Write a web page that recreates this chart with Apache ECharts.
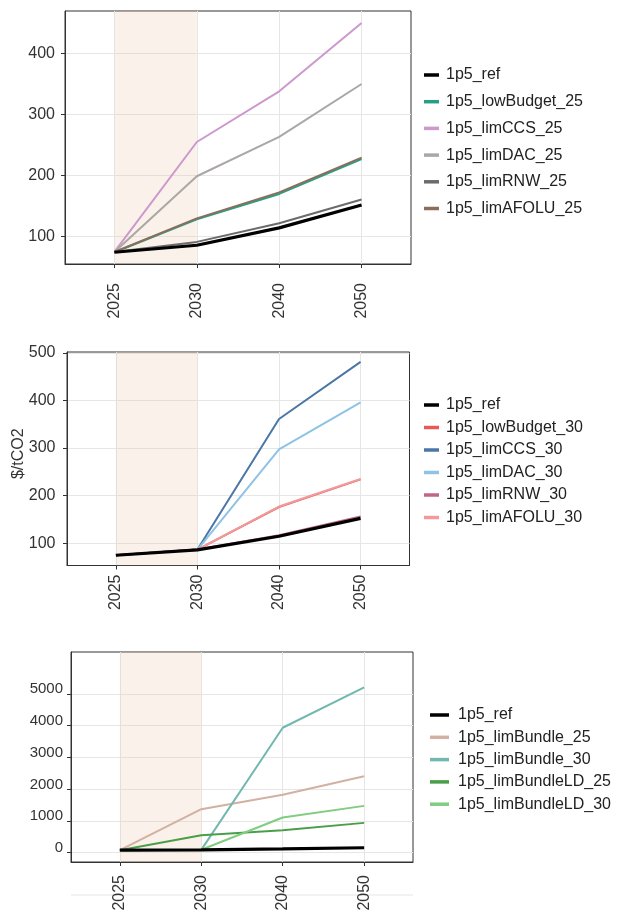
<!DOCTYPE html>
<html>
<head>
<meta charset="utf-8">
<script src="https://cdn.jsdelivr.net/npm/echarts@6/dist/echarts.min.js"></script>
<style>
  html, body { margin: 0; padding: 0; background: #fff; }
  #chart { width: 618px; height: 912px; }
</style>
</head>
<body>
<div id="chart"></div>
<script>
// ---- data ----
var years = ['2025', '2030', '2040', '2050'];
var ref = [74.5, 86, 114.5, 152];

// panel 1 (2025 scenarios)
var lowBudget_25 = [74.5, 128.5, 170, 227];
var limCCS_25 = [75, 255, 338, 450];
var limDAC_25 = [75, 199, 263.5, 350];
var limRNW_25 = [75, 91.5, 122, 161];
var limAFOLU_25 = [75, 130, 172.5, 229.5];

// panel 2 (2030 scenarios)
var lowBudget_30 = [74.5, 86.5, 176, 234];
var limCCS_30 = [74.5, 86.5, 361, 481];
var limDAC_30 = [74.5, 86.5, 297, 396];
var limRNW_30 = [74.5, 86.5, 116.5, 156];
var limAFOLU_30 = [74.5, 86.5, 177, 235];

// panel 3 (bundles)
var limBundle_25 = [80, 1365, 1820, 2405];
var limBundle_30 = [75, 86, 3930, 5200];
var limBundleLD_25 = [75, 545, 705, 935];
var limBundleLD_30 = [75, 90, 1105, 1470];

var yTicks1 = [100, 200, 300, 400];
var yTicks2 = [100, 200, 300, 400, 500];
var yTicks3 = [0, 1000, 2000, 3000, 4000, 5000];
var xTicks = [0, 1, 2, 3];

var panels = [
  { names: ['1p5_ref', '1p5_lowBudget_25', '1p5_limCCS_25', '1p5_limDAC_25', '1p5_limRNW_25', '1p5_limAFOLU_25'],
    values: [ref, lowBudget_25, limCCS_25, limDAC_25, limRNW_25, limAFOLU_25],
    colors: ['#000000', '#26a085', '#cc99cc', '#aaa7a5', '#6e6a6a', '#8c6c5a'] },
  { names: ['1p5_ref', '1p5_lowBudget_30', '1p5_limCCS_30', '1p5_limDAC_30', '1p5_limRNW_30', '1p5_limAFOLU_30'],
    values: [ref, lowBudget_30, limCCS_30, limDAC_30, limRNW_30, limAFOLU_30],
    colors: ['#000000', '#e8595c', '#4a77a6', '#8ec3e6', '#c0648a', '#f29a9a'] },
  { names: ['1p5_ref', '1p5_limBundle_25', '1p5_limBundle_30', '1p5_limBundleLD_25', '1p5_limBundleLD_30'],
    values: [ref, limBundle_25, limBundle_30, limBundleLD_25, limBundleLD_30],
    colors: ['#000000', '#d2b0a2', '#72b8b0', '#4a9e4a', '#80cc80'] }
];

var chart = echarts.init(document.getElementById('chart'), null, { renderer: 'canvas' });

var grids = [
  { left: 65, top: 11, width: 346, height: 253 },
  { left: 67, top: 352, width: 342.5, height: 213.5 },
  { left: 71, top: 652, width: 342, height: 210 }
];
grids.forEach(function (g) {
  g.show = true; g.borderColor = '#333'; g.borderWidth = 1; g.backgroundColor = '#fff';
  g.containLabel = false; g.outerBoundsMode = 'none';
});

var yRanges = [[55.3, 469.5], [53, 501.9], [-297, 6315]];
var yTickSets = [yTicks1, yTicks2, yTicks3];
var xLabelMargins = [19, 9, 13];
var yLabelMargins = [10, 11.5, 8];
var yFont = [16, 16, 15];

var xAxes = [], yAxes = [], series = [], legends = [];
for (var p = 0; p < 3; p++) {
  xAxes.push({
    type: 'value', gridIndex: p, min: -0.6, max: 3.6,
    axisLine: { show: true, onZero: false, lineStyle: { color: '#333', width: 1 } },
    axisTick: { show: true, length: 4, customValues: xTicks, lineStyle: { color: '#333' } },
    axisLabel: {
      customValues: xTicks, rotate: 90, margin: xLabelMargins[p],
      fontSize: 16, color: '#333', fontFamily: 'Liberation Sans, Arial, sans-serif',
      formatter: function (v) { return years[Math.round(v)]; }
    },
    splitLine: { show: true, lineStyle: { color: '#e6e6e6', width: 1 } }
  });
  var yLab = {
    customValues: yTickSets[p], margin: yLabelMargins[p],
    fontSize: yFont[p], color: '#333', fontFamily: 'Liberation Sans, Arial, sans-serif',
    formatter: function (v) { return String(v); }
  };
  if (p === 2) { yLab.verticalAlign = 'bottom'; yLab.lineHeight = 9; }
  yAxes.push({
    type: 'value', gridIndex: p, min: yRanges[p][0], max: yRanges[p][1],
    name: p === 1 ? '$/tCO2' : '', nameLocation: 'middle', nameGap: 40,
    nameMoveOverlap: false,
    nameTextStyle: { fontSize: 16, color: '#333', fontFamily: 'Liberation Sans, Arial, sans-serif', padding: [0, 0, 0, 10] },
    axisLine: { show: true, onZero: false, lineStyle: { color: '#333', width: 1 } },
    axisTick: { show: true, length: 4, customValues: yTickSets[p], lineStyle: { color: '#333' } },
    axisLabel: yLab,
    splitLine: { show: true, lineStyle: { color: '#e6e6e6', width: 1 } }
  });

  var pan = panels[p];
  for (var s = 1; s <= pan.names.length; s++) {
    var idx = s % pan.names.length; // ref (index 0) drawn last, on top
    var vals = pan.values[idx];
    var pts = vals.map(function (v, i) { return [i, v]; });
    var isRef = idx === 0;
    var ser = {
      type: 'line', name: pan.names[idx], xAxisIndex: p, yAxisIndex: p,
      data: pts, symbol: 'none', showSymbol: false, silent: true,
      color: pan.colors[idx],
      lineStyle: { color: pan.colors[idx], width: isRef ? 3.2 : 2 },
      z: isRef ? 5 : 3, animation: false
    };
    if (s === 1) {
      ser.markArea = {
        silent: true,
        itemStyle: { color: 'rgba(236, 205, 170, 0.25)' },
        data: [[{ xAxis: 0 }, { xAxis: 1 }]]
      };
    }
    series.push(ser);
  }
}

legends.push({
  data: panels[0].names, orient: 'vertical', left: 424, top: 66, padding: 0,
  itemWidth: 15, itemHeight: 3.5, itemGap: 8.7, icon: 'rect', selectedMode: false,
  textStyle: { fontSize: 16, lineHeight: 18, color: '#222', fontFamily: 'Liberation Sans, Arial, sans-serif', padding: [0, 0, 0, 2] }
});
legends.push({
  data: panels[1].names, orient: 'vertical', left: 424, top: 396, padding: 0,
  itemWidth: 15, itemHeight: 3.5, itemGap: 4.5, icon: 'rect', selectedMode: false,
  textStyle: { fontSize: 16, lineHeight: 18, color: '#222', fontFamily: 'Liberation Sans, Arial, sans-serif', padding: [0, 0, 0, 2] }
});
legends.push({
  data: panels[2].names, orient: 'vertical', left: 430, top: 706, padding: 0,
  itemWidth: 19, itemHeight: 3.5, itemGap: 4.3, icon: 'rect', selectedMode: false,
  textStyle: { fontSize: 16, lineHeight: 18, color: '#222', fontFamily: 'Liberation Sans, Arial, sans-serif', padding: [0, 0, 0, 4] }
});

chart.setOption({
  animation: false,
  backgroundColor: '#fff',
  grid: grids,
  xAxis: xAxes,
  yAxis: yAxes,
  legend: legends,
  series: series,
  graphic: [{
    type: 'line', shape: { x1: 71, y1: 895, x2: 413, y2: 895 },
    style: { stroke: '#e5e5e5', lineWidth: 1 }, silent: true
  }]
});
</script>
</body>
</html>
